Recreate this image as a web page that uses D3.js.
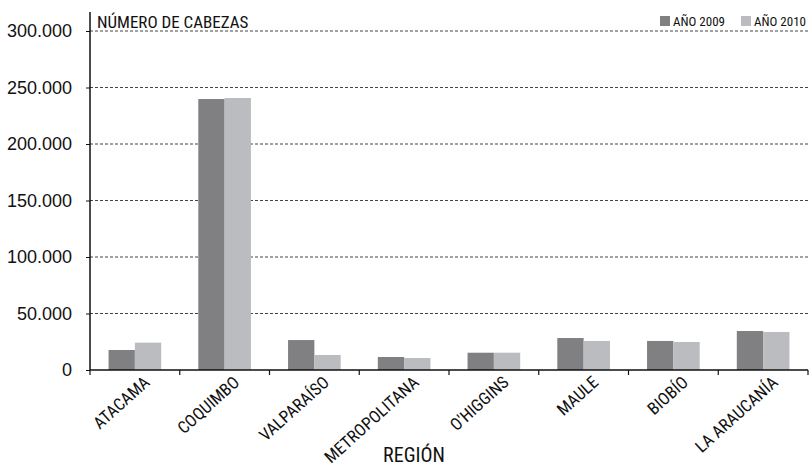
<!DOCTYPE html>
<html><head><meta charset="utf-8">
<script src="https://cdn.jsdelivr.net/npm/d3@7"></script>
<style>
body{margin:0;background:#fff;}
svg{display:block;}
.cond{font-family:"Liberation Sans Narrow","Roboto Condensed","Arial Narrow",sans-serif;font-stretch:condensed;}
</style></head>
<body><svg id="c" width="811" height="466"></svg>
<script>
const categories = ["ATACAMA","COQUIMBO","VALPARAÍSO","METROPOLITANA","O'HIGGINS","MAULE","BIOBÍO","LA ARAUCANÍA"];
const values2009 = [17700, 239800, 26500, 11500, 15300, 28300, 25700, 34500];
const values2010 = [24200, 240700, 13300, 10600, 15300, 25700, 24800, 33600];
const seriesNames = ["AÑO 2009","AÑO 2010"];
const yTicks = [0, 50000, 100000, 150000, 200000, 250000, 300000];
const colors = ["#808083","#bbbcbf"];

(function(){
const svg = d3.select("#c");
const mL = 90, mR = 808, mT = 31, mB = 370;
const x = d3.scaleBand().domain(categories).range([mL, mR]).paddingInner(0).paddingOuter(0);
const y = d3.scaleLinear().domain([0, 300000]).range([mB, mT]);
const inner = d3.scaleBand().domain([0,1]).range([0, x.bandwidth()]).paddingOuter(0.705).paddingInner(0);
const fmt = d => d3.format(",")(d).replace(/,/g, ".");

svg.append("g").selectAll("line").data(yTicks.filter(d => d > 0)).join("line")
  .attr("x1", mL).attr("x2", mR).attr("y1", d => y(d)).attr("y2", d => y(d))
  .attr("stroke", "#444").attr("stroke-width", 1).attr("stroke-dasharray", "3,2");

const g = svg.append("g");
categories.forEach((c, i) => {
  [values2009[i], values2010[i]].forEach((v, s) => {
    g.append("rect").attr("x", x(c) + inner(s)).attr("width", inner.bandwidth())
      .attr("y", y(v)).attr("height", y(0) - y(v)).attr("fill", colors[s]);
  });
});

const yAxis = d3.axisLeft(y).tickValues(yTicks).tickFormat(fmt).tickSize(4).tickPadding(14);
const ya = svg.append("g").attr("transform", `translate(${mL},0)`).call(yAxis);
ya.select(".domain").remove();
ya.selectAll(".tick line").attr("stroke", "#111");
ya.selectAll(".tick text").attr("font-family", "Liberation Sans, Arial, sans-serif").attr("font-size", 18).attr("fill", "#111");
svg.append("line").attr("x1", mL).attr("x2", mL).attr("y1", 12).attr("y2", mB).attr("stroke", "#111").attr("stroke-width", 1.5);

svg.append("line").attr("x1", mL).attr("x2", mR).attr("y1", mB).attr("y2", mB).attr("stroke", "#111").attr("stroke-width", 1.5);
const bounds = categories.map(c => x(c)).concat([mR]);
svg.append("g").selectAll("line").data(bounds).join("line")
  .attr("x1", d => d).attr("x2", d => d).attr("y1", mB).attr("y2", mB + 5)
  .attr("stroke", "#111").attr("stroke-width", 1.2);

svg.append("g").selectAll("text").data(categories).join("text")
  .attr("class", "cond")
  .attr("transform", d => `translate(${x(d) + x.bandwidth()/2 + 8},${mB + 5}) rotate(-42)`)
  .attr("text-anchor", "end").attr("dy", "0.7em")
  .attr("font-size", 17).attr("fill", "#111").text(d => d);

svg.append("text").attr("class", "cond").attr("x", 414).attr("y", 462)
  .attr("text-anchor", "middle").attr("font-size", 20).attr("fill", "#111").text("REGIÓN");

svg.append("text").attr("class", "cond").attr("x", 97).attr("y", 28)
  .attr("font-size", 17).attr("fill", "#111").text("NÚMERO DE CABEZAS");

const legX = [660, 741];
seriesNames.forEach((n, i) => {
  svg.append("rect").attr("x", legX[i]).attr("y", 16).attr("width", 10).attr("height", 10).attr("fill", colors[i]);
  svg.append("text").attr("class", "cond").attr("x", legX[i] + 13).attr("y", 26)
    .attr("font-size", 13).attr("fill", "#111").text(n);
});
})();
</script></body></html>
